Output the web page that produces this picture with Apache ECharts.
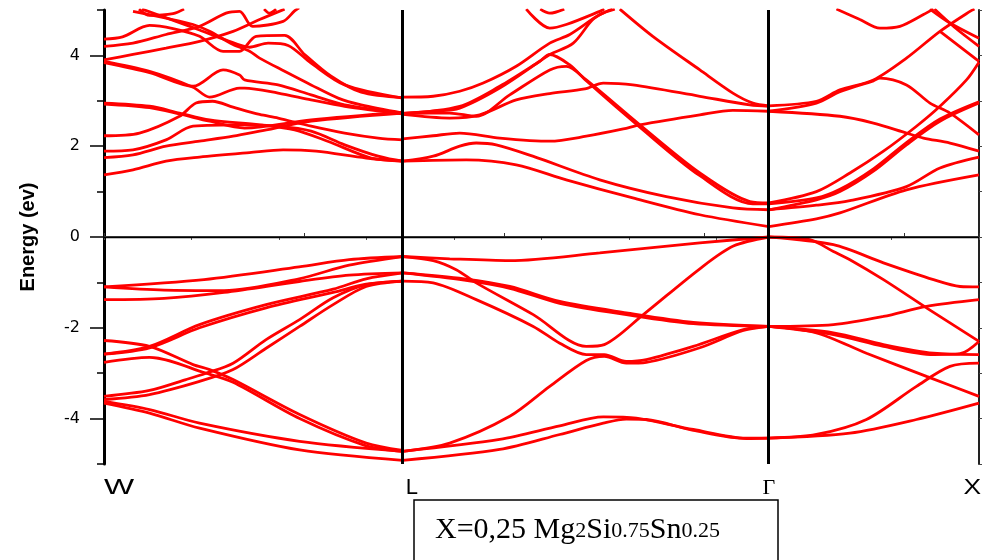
<!DOCTYPE html>
<html>
<head>
<meta charset="utf-8">
<script src="https://cdn.jsdelivr.net/npm/echarts@6/dist/echarts.min.js"></script>
<style>
  html, body { margin: 0; padding: 0; background: #ffffff; }
  #chart { width: 989px; height: 560px; }
</style>
</head>
<body>
<div id="chart"></div>
<script>
// k-path: high-symmetry points (path length units) and their names
const kPoints = [0, 2.985, 6.645, 8.745];
const kNames = ['W', 'L', 'Γ', 'X'];

// Energy axis ticks (eV)
const energyTicks = [-4, -2, 0, 2, 4];
const energyMinorTicks = [-5, -3, -1, 1, 3, 5];

// ---- Valence bands: [k, E] ----
const valenceWL = [
  [[0,-1.10],[1.0,-0.94],[1.95,-0.66],[2.45,-0.50],[2.985,-0.43]],
  [[0,-1.10],[0.6,-1.17],[1.2,-1.18],[1.95,-0.92],[2.45,-0.62],[2.985,-0.43]],
  [[0,-1.38],[0.6,-1.35],[1.2,-1.22],[1.95,-0.98],[2.45,-0.84],[2.985,-0.79]],
  [[0,-2.58],[0.455,-2.41],[0.955,-1.93],[1.62,-1.49],[2.29,-1.15],[2.62,-0.92],[2.985,-0.79]],
  [[0,-2.58],[0.455,-2.44],[0.955,-2.0],[1.62,-1.56],[2.29,-1.22],[2.62,-1.04],[2.985,-0.97]],
  [[0,-2.28],[0.455,-2.41],[0.89,-2.81],[1.055,-2.92],[1.29,-3.14],[1.955,-3.91],[2.62,-4.54],[2.985,-4.70]],
  [[0,-2.76],[0.455,-2.65],[1.02,-3.0],[1.29,-3.20],[1.955,-4.0],[2.62,-4.6],[2.985,-4.72]],
  [[0,-3.51],[0.455,-3.38],[0.82,-3.14],[1.02,-3.0],[1.29,-2.78],[1.62,-2.26],[1.955,-1.82],[2.29,-1.34],[2.62,-1.05],[2.985,-0.97]],
  [[0,-3.58],[0.455,-3.47],[0.955,-3.18],[1.29,-2.92],[1.62,-2.45],[1.955,-1.97],[2.29,-1.49],[2.62,-1.09],[2.985,-0.97]],
  [[0,-3.62],[0.455,-3.80],[0.955,-4.10],[1.955,-4.50],[2.985,-4.72]],
  [[0,-3.66],[0.455,-3.88],[0.955,-4.21],[1.955,-4.69],[2.985,-4.92]]
];

const valenceLG = [
  [[2.985,-0.43],[3.455,-0.48],[4.055,-0.52],[4.955,-0.35],[5.955,-0.13],[6.645,0]],
  [[2.985,-0.43],[3.29,-0.52],[3.52,-0.72],[3.72,-1.01],[4.29,-1.71],[4.82,-2.41],[5.0,-2.37],[5.39,-1.71],[5.955,-0.70],[6.29,-0.2],[6.645,0]],
  [[2.985,-0.79],[3.6,-0.92],[4.055,-1.09],[4.555,-1.42],[5.22,-1.67],[5.89,-1.88],[6.645,-1.97]],
  [[2.985,-0.79],[3.6,-0.95],[4.055,-1.13],[4.555,-1.46],[5.22,-1.71],[5.89,-1.91],[6.645,-1.97]],
  [[2.985,-0.97],[3.29,-1.01],[3.72,-1.38],[4.29,-1.97],[4.555,-2.34],[4.82,-2.59],[5.0,-2.59],[5.22,-2.74],[5.42,-2.70],[5.89,-2.41],[6.39,-2.04],[6.645,-1.97]],
  [[2.985,-4.72],[3.455,-4.54],[4.055,-3.95],[4.455,-3.29],[4.82,-2.72],[5.0,-2.63],[5.22,-2.78],[5.42,-2.76],[5.955,-2.44],[6.39,-2.06],[6.645,-1.97]],
  [[2.985,-4.72],[3.955,-4.46],[4.555,-4.16],[4.99,-3.96],[5.32,-3.99],[5.89,-4.24],[6.42,-4.43],[6.645,-4.43]],
  [[2.985,-4.92],[3.955,-4.68],[4.555,-4.35],[4.99,-4.10],[5.22,-4.01],[5.42,-4.02],[5.89,-4.26],[6.42,-4.44],[6.645,-4.43]]
];

const valenceGX = [
  [[6.645,0],[7.29,-0.17],[7.79,-0.57],[8.29,-0.94],[8.555,-1.09],[8.745,-1.10]],
  [[6.645,0],[7.055,-0.06],[7.29,-0.32],[7.455,-0.50],[7.79,-0.94],[8.22,-1.56],[8.745,-2.30]],
  [[6.645,-1.97],[7.29,-1.93],[7.79,-1.75],[8.22,-1.53],[8.745,-1.38]],
  [[6.645,-1.97],[7.29,-2.11],[7.79,-2.37],[8.29,-2.56],[8.745,-2.59]],
  [[6.645,-1.97],[7.29,-2.15],[7.79,-2.41],[8.29,-2.59],[8.555,-2.57],[8.745,-2.30]],
  [[6.645,-1.97],[7.12,-2.11],[7.62,-2.56],[8.22,-3.07],[8.745,-3.51]],
  [[6.645,-4.43],[7.12,-4.35],[7.62,-4.02],[8.12,-3.29],[8.455,-2.85],[8.745,-2.78]],
  [[6.645,-4.43],[7.455,-4.32],[8.12,-4.02],[8.745,-3.66]]
];

// ---- Conduction bands: [k, E] ----
const conductionWL = [
  [[0,1.37],[0.29,1.48],[0.62,1.67],[0.955,1.76],[1.455,1.86],[1.79,1.92],[2.12,1.89],[2.62,1.74],[2.985,1.67]],
  [[0,1.75],[0.29,1.81],[0.62,2.0],[0.955,2.11],[1.29,2.22],[1.555,2.33],[2.07,2.55],[2.985,2.73]],
  [[0,1.89],[0.29,1.92],[0.62,2.14],[0.89,2.44],[1.405,2.47],[1.74,2.44],[2.07,2.33],[2.405,2.03],[2.74,1.78],[2.985,1.67]],
  [[0,2.95],[0.455,2.88],[0.755,2.73],[1.055,2.58],[1.555,2.47],[1.905,2.36],[2.235,2.11],[2.67,1.74],[2.985,1.67]],
  [[0,2.93],[0.455,2.85],[0.755,2.71],[1.055,2.55],[1.405,2.40],[2.07,2.58],[2.985,2.75]],
  [[0,2.23],[0.355,2.29],[0.755,2.66],[0.92,2.95],[1.085,2.99],[1.29,2.86],[1.555,2.70],[1.74,2.62],[2.07,2.44],[2.405,2.29],[2.74,2.18],[2.985,2.14]],
  [[0,3.87],[0.455,3.65],[0.89,3.30],[1.055,3.08],[1.355,3.28],[1.405,3.28],[1.74,3.17],[2.07,3.02],[2.405,2.88],[2.985,2.71]],
  [[0,3.84],[0.455,3.62],[0.89,3.32],[1.19,3.68],[1.355,3.57],[1.405,3.46],[1.74,3.35],[2.07,3.13],[2.405,2.91],[2.985,2.73]],
  [[0,4.36],[0.185,4.41],[0.455,4.66],[0.69,4.59],[0.955,4.42],[1.19,4.09],[1.355,4.09],[1.52,4.42],[1.805,4.44],[2.005,4.02],[2.27,3.54],[2.57,3.19],[2.985,3.07]],
  [[0,4.20],[0.29,4.27],[0.62,4.46],[0.955,4.64],[1.22,4.93],[1.355,4.97],[1.485,4.64],[1.79,4.75],[1.905,4.98],[1.95,5.05]],
  [[0,3.90],[0.29,4.02],[0.62,4.16],[0.955,4.31],[1.29,4.53],[1.555,4.79],[1.805,5.02]],
  [[0.29,4.97],[0.62,4.82],[0.89,4.68],[1.055,4.53],[1.29,4.24],[1.455,4.09],[1.555,3.94],[1.805,3.65],[2.07,3.35],[2.34,3.06],[2.57,2.91],[2.985,2.73]],
  [[0.38,5.02],[0.72,4.75],[0.955,4.56],[1.22,4.34],[1.455,4.18],[1.64,4.27],[1.84,4.22],[2.07,3.83],[2.405,3.35],[2.985,3.06]],
  [[0.35,5.02],[0.455,4.88],[0.69,4.92],[0.8,5.02]],
  [[1.6,5.02],[1.655,4.93],[1.72,5.02]]
];

const conductionLG = [
  [[2.985,3.08],[3.29,3.10],[3.555,3.21],[3.79,3.39],[4.12,3.76],[4.455,4.27],[4.655,4.46],[4.955,4.90],[5.105,5.02]],
  [[2.985,2.72],[3.29,2.77],[3.555,2.84],[3.955,3.28],[4.355,3.87],[4.455,4.02],[4.69,4.27],[4.885,4.79],[5.025,4.97],[5.08,5.02]],
  [[2.985,2.72],[3.455,2.73],[3.72,2.66],[4.055,3.13],[4.455,3.68],[4.62,3.76],[4.82,3.46],[5.355,2.47],[5.955,1.41],[6.455,0.78],[6.645,0.75]],
  [[2.985,2.72],[3.555,2.88],[3.955,3.32],[4.355,3.87],[4.455,4.02],[4.655,3.79],[4.82,3.44],[5.355,2.42],[5.955,1.35],[6.485,0.73],[6.645,0.73]],
  [[2.985,2.70],[3.455,2.62],[3.755,2.69],[4.12,3.02],[4.455,3.16],[4.805,3.26],[4.99,3.39],[5.285,3.35],[5.955,3.10],[6.455,2.91],[6.645,2.88]],
  [[5.155,5.02],[5.485,4.42],[5.955,3.68],[6.285,3.17],[6.485,2.95],[6.645,2.89]],
  [[2.985,2.16],[3.29,2.23],[3.555,2.29],[3.955,2.18],[4.455,2.11],[4.82,2.22],[5.19,2.38],[5.355,2.47],[5.955,2.69],[6.285,2.79],[6.645,2.77]],
  [[2.985,1.67],[3.29,1.78],[3.555,2.0],[3.72,2.07],[3.92,2.03],[4.285,1.78],[4.955,1.26],[5.62,0.89],[6.285,0.64],[6.645,0.60]],
  [[2.985,1.67],[3.62,1.70],[4.12,1.59],[4.62,1.26],[5.285,0.86],[5.955,0.49],[6.645,0.23]],
  [[4.22,5.02],[4.455,4.60],[4.62,4.68],[4.955,4.97],[5.0,5.02]],
  [[4.36,5.02],[4.455,4.93],[4.6,5.02]]
];

const conductionGX = [
  [[6.645,2.89],[7.12,2.99],[7.355,3.24],[7.69,3.46],[8.02,3.94],[8.355,4.53],[8.655,4.97],[8.7,5.02]],
  [[6.645,2.77],[7.12,2.95],[7.355,3.20],[7.69,3.44],[7.755,3.50],[8.02,3.35],[8.255,2.95],[8.455,2.73],[8.745,2.25]],
  [[6.645,2.77],[7.355,2.66],[7.69,2.51],[8.02,2.29],[8.19,2.18],[8.455,2.07],[8.745,1.89]],
  [[7.32,5.02],[7.555,4.79],[7.755,4.60],[7.955,4.64],[8.19,4.90],[8.29,5.02]],
  [[8.255,5.02],[8.45,4.72],[8.745,4.38]],
  [[8.3,5.02],[8.5,4.62],[8.745,4.20]],
  [[8.355,4.53],[8.55,4.20],[8.745,3.87]],
  [[6.645,0.75],[7.12,1.0],[7.455,1.41],[7.79,1.89],[8.12,2.44],[8.355,2.88],[8.62,3.46],[8.745,3.85]],
  [[6.645,0.60],[7.12,0.82],[7.355,1.0],[7.69,1.45],[8.02,2.03],[8.355,2.55],[8.745,2.95]],
  [[6.645,0.73],[7.12,0.86],[7.355,1.05],[7.69,1.50],[8.02,2.08],[8.355,2.60],[8.745,2.98]],
  [[6.645,0.23],[7.12,0.40],[7.355,0.53],[8.02,1.04],[8.745,1.37]],
  [[6.645,0.60],[7.12,0.70],[7.455,0.80],[8.02,1.11],[8.355,1.52],[8.745,1.76]]
];

const bands = [].concat(valenceWL, valenceLG, valenceGX, conductionWL, conductionLG, conductionGX);

const chart = echarts.init(document.getElementById('chart'), null, { renderer: 'canvas' });

const bandSeries = bands.map(function (pts) {
  return {
    type: 'line',
    data: pts,
    showSymbol: false,
    smooth: 0.3,
    silent: true,
    z: 2,
    lineStyle: { color: '#ff0000', width: 2.8 }
  };
});

// Black guide lines: high-symmetry verticals (interior points) and the Fermi level
const guideSeries = {
  type: 'line',
  data: [],
  silent: true,
  z: 5,
  markLine: {
    symbol: 'none',
    silent: true,
    animation: false,
    label: { show: false },
    lineStyle: { color: '#000000', width: 3, type: 'solid' },
    data: kPoints.slice(1, 3).map(function (k) { return { xAxis: k }; })
      .concat([{ yAxis: 0, lineStyle: { color: '#000000', width: 1.3, type: 'solid' } }])
  }
};

const option = {
  backgroundColor: '#ffffff',
  animation: false,
  grid: { left: 104, right: 10, top: 10, bottom: 96, containLabel: false },
  xAxis: [
    {
      type: 'value', position: 'bottom',
      min: kPoints[0], max: kPoints[3], interval: 2,
      axisLine: { show: true, lineStyle: { color: '#111111', width: 2 } },
      axisTick: { show: true, inside: true, length: 4, lineStyle: { color: '#333333', width: 1 } },
      axisLabel: { show: false },
      splitLine: { show: false }
    },
    {
      type: 'value', position: 'top',
      min: kPoints[0], max: kPoints[3], interval: kPoints[3] / 10,
      axisLine: { show: true, lineStyle: { color: '#555555', width: 1.5 } },
      axisTick: { show: true, inside: true, length: 3, lineStyle: { color: '#555555', width: 1 } },
      axisLabel: { show: false },
      splitLine: { show: false }
    }
  ],
  yAxis: [
    {
      type: 'value', position: 'left',
      min: -5, max: 5, interval: 1,
      name: 'Energy (ev)', nameLocation: 'middle', nameGap: 66,
      nameTextStyle: { fontFamily: 'Liberation Sans', fontWeight: 'bold', fontSize: 20, color: '#000000' },
      axisLine: { show: true, lineStyle: { color: '#000000', width: 3 } },
      axisTick: { show: true, customValues: energyTicks, length: 14, lineStyle: { color: '#000000', width: 1.5 } },
      axisLabel: {
        show: true, customValues: energyTicks, margin: 24,
        fontFamily: 'DejaVu Sans', fontSize: 16, color: '#000000'
      },
      splitLine: { show: false }
    },
    {
      type: 'value', position: 'left',
      min: -5, max: 5, interval: 1,
      axisLine: { show: false },
      axisTick: { show: true, customValues: energyMinorTicks, length: 7, lineStyle: { color: '#000000', width: 1.5 } },
      axisLabel: { show: false },
      splitLine: { show: false }
    },
    {
      type: 'value', position: 'right',
      min: -5, max: 5, interval: 1,
      axisLine: { show: true, lineStyle: { color: '#222222', width: 2 } },
      axisTick: { show: true, length: 3, lineStyle: { color: '#444444', width: 1 } },
      axisLabel: { show: false },
      splitLine: { show: false }
    }
  ],
  series: bandSeries.concat([guideSeries])
};

chart.setOption(option);

// k-point names under the axis, placed from the axis scale
const nameAlign = ['left', 'left', 'center', 'right'];
const nameOffset = [0, 3, 0, 2];
const nameFont = ['Liberation Sans', 'Liberation Sans', 'Liberation Serif', 'Liberation Sans'];
const nameStretch = [1.45, 1.0, 1.0, 1.2];
const axisBottom = chart.convertToPixel({ yAxisIndex: 0 }, -5);

const graphics = kPoints.map(function (k, i) {
  return {
    type: 'text',
    x: chart.convertToPixel({ xAxisIndex: 0 }, k) + nameOffset[i],
    y: axisBottom + 13,
    scaleX: nameStretch[i],
    silent: true,
    style: {
      text: kNames[i],
      fill: '#000000',
      font: '22px "' + nameFont[i] + '"',
      textAlign: nameAlign[i],
      textVerticalAlign: 'top'
    }
  };
});

// Composition caption box
graphics.push({
  type: 'rect',
  silent: true,
  shape: { x: 414, y: 500, width: 364, height: 80 },
  style: { fill: '#ffffff', stroke: '#000000', lineWidth: 1.5 }
});
graphics.push({
  type: 'text',
  silent: true,
  x: 435,
  y: 545,
  style: {
    text: '{a|X=0,25 Mg}{b|2}{a|Si}{b|0.75}{a|Sn}{b|0.25}',
    textVerticalAlign: 'bottom',
    rich: {
      a: { fontFamily: 'Liberation Serif', fontSize: 30, fill: '#000000', verticalAlign: 'bottom' },
      b: { fontFamily: 'Liberation Serif', fontSize: 22, fill: '#000000', verticalAlign: 'bottom', padding: [0, 0, 3, 0] }
    }
  }
});

chart.setOption({ graphic: graphics });
</script>
</body>
</html>
